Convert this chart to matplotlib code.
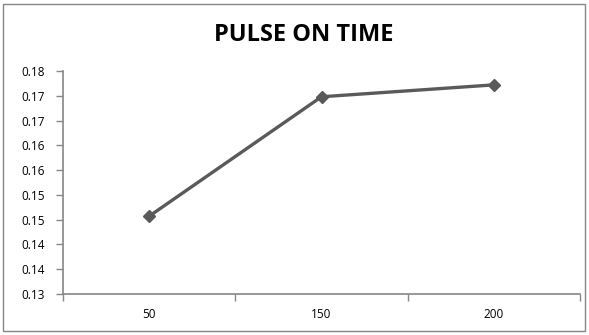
import matplotlib
matplotlib.use("Agg")
import matplotlib.pyplot as plt
from matplotlib.patches import Rectangle
import numpy as np

categories = ["50", "150", "200"]
values = [0.1457, 0.1698, 0.1722]
ytick_values = [0.13, 0.135, 0.14, 0.145, 0.15, 0.155, 0.16, 0.165, 0.17, 0.175]
ytick_labels = ["0.13", "0.14", "0.14", "0.15", "0.15", "0.16", "0.16", "0.17", "0.17", "0.18"]
title = "PULSE ON TIME"

plt.rcParams['font.family'] = ['Open Sans', 'DejaVu Sans']

fig = plt.figure(figsize=(5.89, 3.35), dpi=100)
fig.patch.set_facecolor("white")
W, H = 589, 335
ax = fig.add_axes([63 / W, 1 - 294 / H, (580 - 63) / W, (294 - 71) / H])

x = np.arange(len(categories))
ax.plot(x, values, color="#5a5a5a", linewidth=2.4, marker="D", markersize=6.5,
        markerfacecolor="#5a5a5a", markeredgecolor="#5a5a5a", solid_joinstyle="miter")

ax.set_xlim(-0.5, len(categories) - 0.5)
ax.set_ylim(ytick_values[0], ytick_values[-1])
ax.set_xticks(x)
ax.set_xticklabels(categories, fontsize=8.5, color="#000000")
ax.set_xticks(np.arange(len(categories) + 1) - 0.5, minor=True)
ax.tick_params(axis="x", which="major", length=0, pad=10)
ax.tick_params(axis="x", which="minor", length=5, width=1, color="#868686", direction="out")
ax.set_yticks(ytick_values)
ax.set_yticklabels(ytick_labels, fontsize=8.5, color="#000000")
ax.tick_params(axis="y", length=5, width=1, color="#868686", direction="out", pad=8)

for s in ["top", "right"]:
    ax.spines[s].set_visible(False)
for s in ["left", "bottom"]:
    ax.spines[s].set_color("#868686")
    ax.spines[s].set_linewidth(1.2)

fig.text(304 / W, 1 - 35 / H, title, ha="center", va="center", fontsize=17,
         fontweight="bold", color="#000000")

border = Rectangle((3 / W, 4 / H), (585 - 3) / W, (331 - 4) / H, transform=fig.transFigure,
                   fill=False, edgecolor="#868686", linewidth=1)
fig.patches.append(border)

fig.savefig("out.png", dpi=100, facecolor="white")
